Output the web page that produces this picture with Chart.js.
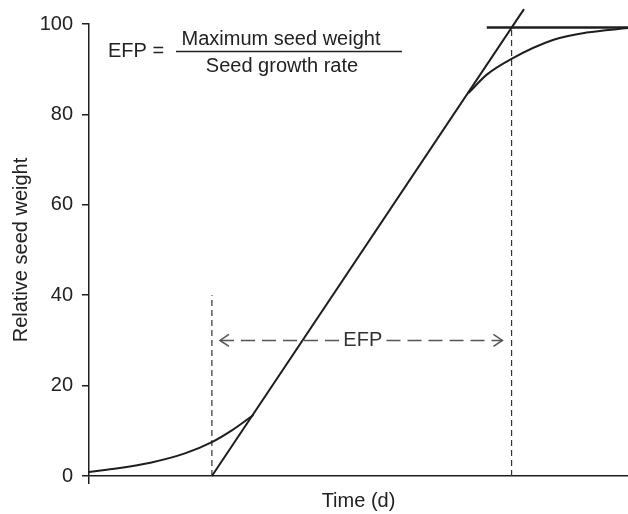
<!DOCTYPE html>
<html>
<head>
<meta charset="utf-8">
<script src="https://cdn.jsdelivr.net/npm/chart.js@4"></script>
<style>
  html, body { margin: 0; padding: 0; background: #fff; }
  #wrap { width: 628px; height: 514px; }
</style>
</head>
<body>
<div id="wrap"><canvas id="efpChart" width="628" height="514"></canvas></div>
<script>
// (x: time in % of axis, y: relative seed weight)
const lagTimes = [0, 5.4, 11.6, 17.8, 22.8, 26.5, 30.5];
const lagWeights = [0.9, 1.7, 3.0, 5.0, 7.5, 10.1, 13.5];
const plateauTimes = [70.4, 73.8, 78.4, 86.2, 92.3, 100];
const plateauWeights = [84.7, 88.8, 92.3, 96.5, 98.1, 99.1];
const tangentTimes = [22.8, 80.7];
const tangentWeights = [0, 103.3];
const maxLineTimes = [73.8, 100];
const maxLineWeights = [99.2, 99.2];
const efpStart = 22.8;
const efpEnd = 78.4;
const efpStartHeight = 40;
const efpEndHeight = 99.2;
const arrowLevel = 30;
const arrowTimes = [24.3, 46.4, null, 55.2, 76.7];
const yTicks = [0, 20, 40, 60, 80, 100];

const ink = '#1e1e1e';
const font20 = { family: 'Liberation Sans, Arial, Helvetica, sans-serif', size: 20 };

function pts(xs, ys) {
  return xs.map((x, i) => ({ x: x, y: ys[i] }));
}

const arrowPoints = arrowTimes.map((x) => x === null ? { x: 50, y: null } : { x: x, y: arrowLevel });

function lineSet(data, extra) {
  return Object.assign({
    data: data,
    showLine: true,
    borderColor: ink,
    borderWidth: 2,
    pointRadius: 0,
    fill: false,
    clip: false
  }, extra || {});
}

const labelsPlugin = {
  id: 'efpLabels',
  afterDatasetsDraw(chart) {
    const ctx = chart.ctx;
    const xs = chart.scales.x;
    const ys = chart.scales.y;
    ctx.save();
    ctx.fillStyle = '#222';
    ctx.font = '20px "Liberation Sans", Arial, sans-serif';

    // equation
    ctx.textAlign = 'left';
    ctx.textBaseline = 'middle';
    ctx.fillText('EFP =', 108, 51);
    ctx.textAlign = 'center';
    ctx.textBaseline = 'alphabetic';
    ctx.fillText('Maximum seed weight', 281, 45);
    ctx.fillText('Seed growth rate', 282, 72);
    ctx.strokeStyle = '#222';
    ctx.lineWidth = 1.5;
    ctx.beginPath();
    ctx.moveTo(176, 51.5);
    ctx.lineTo(402, 51.5);
    ctx.stroke();

    // EFP arrow heads and label
    const yA = ys.getPixelForValue(arrowLevel);
    const xL = xs.getPixelForValue(arrowTimes[0]);
    const xR = xs.getPixelForValue(arrowTimes[arrowTimes.length - 1]);
    ctx.strokeStyle = '#555';
    ctx.lineWidth = 1.5;
    ctx.beginPath();
    ctx.moveTo(xL + 9, yA - 6);
    ctx.lineTo(xL, yA);
    ctx.lineTo(xL + 9, yA + 6);
    ctx.moveTo(xR - 9, yA - 6);
    ctx.lineTo(xR, yA);
    ctx.lineTo(xR - 9, yA + 6);
    ctx.stroke();

    ctx.fillStyle = '#333';
    ctx.textAlign = 'center';
    ctx.textBaseline = 'middle';
    ctx.fillText('EFP', xs.getPixelForValue((arrowTimes[1] + arrowTimes[3]) / 2), yA);
    ctx.restore();
  }
};

const ctx = document.getElementById('efpChart').getContext('2d');
new Chart(ctx, {
  type: 'scatter',
  data: {
    datasets: [
      lineSet(pts(lagTimes, lagWeights), { cubicInterpolationMode: 'monotone' }),
      lineSet(pts(plateauTimes, plateauWeights), { cubicInterpolationMode: 'monotone' }),
      lineSet(pts(tangentTimes, tangentWeights)),
      lineSet(pts(maxLineTimes, maxLineWeights), { borderWidth: 2.5 }),
      lineSet(pts([efpStart, efpStart], [0, efpStartHeight]), { borderWidth: 1.2, borderColor: '#333', borderDash: [6, 4] }),
      lineSet(pts([efpEnd, efpEnd], [0, efpEndHeight]), { borderWidth: 1.2, borderColor: '#333', borderDash: [6, 4] }),
      lineSet(arrowPoints, { borderWidth: 1.5, borderColor: '#555', borderDash: [14, 7], spanGaps: false })
    ]
  },
  options: {
    responsive: false,
    animation: false,
    layout: { padding: { left: 0, right: 0, top: 24, bottom: 1 } },
    plugins: {
      legend: { display: false },
      tooltip: { enabled: false }
    },
    scales: {
      x: {
        type: 'linear',
        min: 0,
        max: 100,
        afterBuildTicks: (scale) => { scale.ticks = [{ value: 0 }]; },
        ticks: { display: false },
        grid: { drawOnChartArea: false, drawTicks: true, tickLength: 8, color: ink, lineWidth: 1.5 },
        border: { display: true, color: ink, width: 1.5 },
        title: { display: true, text: 'Time (d)', color: '#222', font: font20, padding: { top: 5, bottom: 0 } }
      },
      y: {
        type: 'linear',
        min: 0,
        max: 100,
        afterBuildTicks: (scale) => { scale.ticks = yTicks.map((v) => ({ value: v })); },
        afterFit: (scale) => { scale.width = 89; },
        ticks: { color: '#222', font: font20, padding: 9 },
        grid: { drawOnChartArea: false, drawTicks: true, tickLength: 7, color: ink, lineWidth: 1.5 },
        border: { display: true, color: ink, width: 1.5 },
        title: { display: true, text: 'Relative seed weight', color: '#222', font: font20, padding: { top: 9, bottom: 0 } }
      }
    }
  },
  plugins: [labelsPlugin]
});
</script>
</body>
</html>
